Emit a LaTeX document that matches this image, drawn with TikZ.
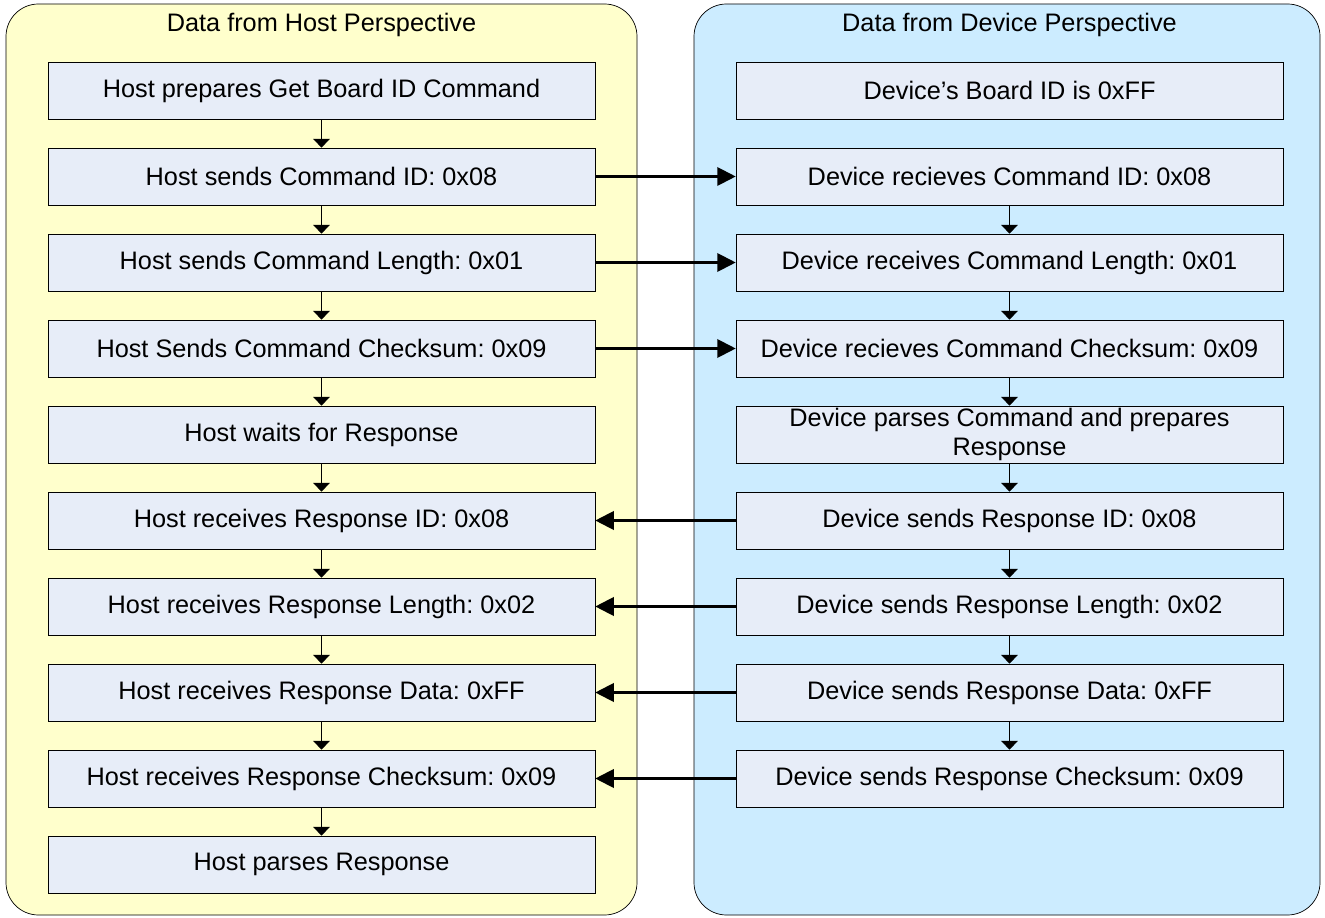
\documentclass[tikz,border=0pt]{standalone}
\usepackage{fontspec}
\setmainfont{Liberation Sans}
\usetikzlibrary{arrows.meta}
\definecolor{hostyellow}{RGB}{255,255,204}
\definecolor{deviceblue}{RGB}{204,236,255}
\definecolor{stepfill}{RGB}{231,237,248}
\frenchspacing

\begin{document}
\begin{tikzpicture}[x=0.02cm, y=-0.02cm,
    lane/.style={draw=black, rounded corners=0.65cm},
    stepbox/.style={draw=black, fill=stepfill, minimum width=10.94cm, minimum height=1.14cm,
      inner sep=0pt, align=center, font=\fontsize{14.4}{16.6}\selectfont},
    lanetitle/.style={font=\fontsize{14.4}{16.6}\selectfont},
    nextstep/.style={-{Triangle[width=9.5pt,length=5pt]}, line width=0.6pt},
    message/.style={-{Triangle[width=10.5pt,length=10.5pt]}, line width=1.2pt}
  ]

  \useasboundingbox (0,0) rectangle (1325,918);

  % Draw the two lanes
  \draw[lane, fill=hostyellow] (6,4) rectangle (637,915);
  \draw[lane, fill=deviceblue] (694,4) rectangle (1320,915);
  \node[lanetitle] (hosttitle) at (321.5,25) {Data from Host Perspective};
  \node[lanetitle] (devicetitle) at (1009.5,25) {Data from Device Perspective};

  % Host steps
  \node[stepbox] (h1) at (321.5,90.5) {Host prepares Get Board ID Command};
  \node[stepbox] (h2) at (321.5,176.5) {Host sends Command ID: 0x08};
  \node[stepbox] (h3) at (321.5,262.5) {Host sends Command Length: 0x01};
  \node[stepbox] (h4) at (321.5,348.5) {Host Sends Command Checksum: 0x09};
  \node[stepbox] (h5) at (321.5,434.5) {Host waits for Response};
  \node[stepbox] (h6) at (321.5,520.5) {Host receives Response ID: 0x08};
  \node[stepbox] (h7) at (321.5,606.5) {Host receives Response Length: 0x02};
  \node[stepbox] (h8) at (321.5,692.5) {Host receives Response Data: 0xFF};
  \node[stepbox] (h9) at (321.5,778.5) {Host receives Response Checksum: 0x09};
  \node[stepbox] (h10) at (321.5,864.5) {Host parses Response};

  % Device steps
  \node[stepbox] (d1) at (1009.5,90.5) {Device's Board ID is 0xFF};
  \node[stepbox] (d2) at (1009.5,176.5) {Device recieves Command ID: 0x08};
  \node[stepbox] (d3) at (1009.5,262.5) {Device receives Command Length: 0x01};
  \node[stepbox] (d4) at (1009.5,348.5) {Device recieves Command Checksum: 0x09};
  \node[stepbox] (d5) at (1009.5,434.5) {Device parses Command and prepares\\Response};
  \node[stepbox] (d6) at (1009.5,520.5) {Device sends Response ID: 0x08};
  \node[stepbox] (d7) at (1009.5,606.5) {Device sends Response Length: 0x02};
  \node[stepbox] (d8) at (1009.5,692.5) {Device sends Response Data: 0xFF};
  \node[stepbox] (d9) at (1009.5,778.5) {Device sends Response Checksum: 0x09};

  % Draw the flow inside each lane
  \foreach \a/\b in {1/2,2/3,3/4,4/5,5/6,6/7,7/8,8/9,9/10} {
    \draw[nextstep] (h\a.south) -- (h\b.north);
  }
  \foreach \a/\b in {2/3,3/4,4/5,5/6,6/7,7/8,8/9} {
    \draw[nextstep] (d\a.south) -- (d\b.north);
  }

  % Draw the command bytes going to the device
  \foreach \r in {2,3,4} {
    \draw[message] (h\r.east) -- (d\r.west);
  }

  % Draw the response bytes coming back
  \foreach \r in {6,7,8,9} {
    \draw[message] (d\r.west) -- (h\r.east);
  }

\end{tikzpicture}
\end{document}
